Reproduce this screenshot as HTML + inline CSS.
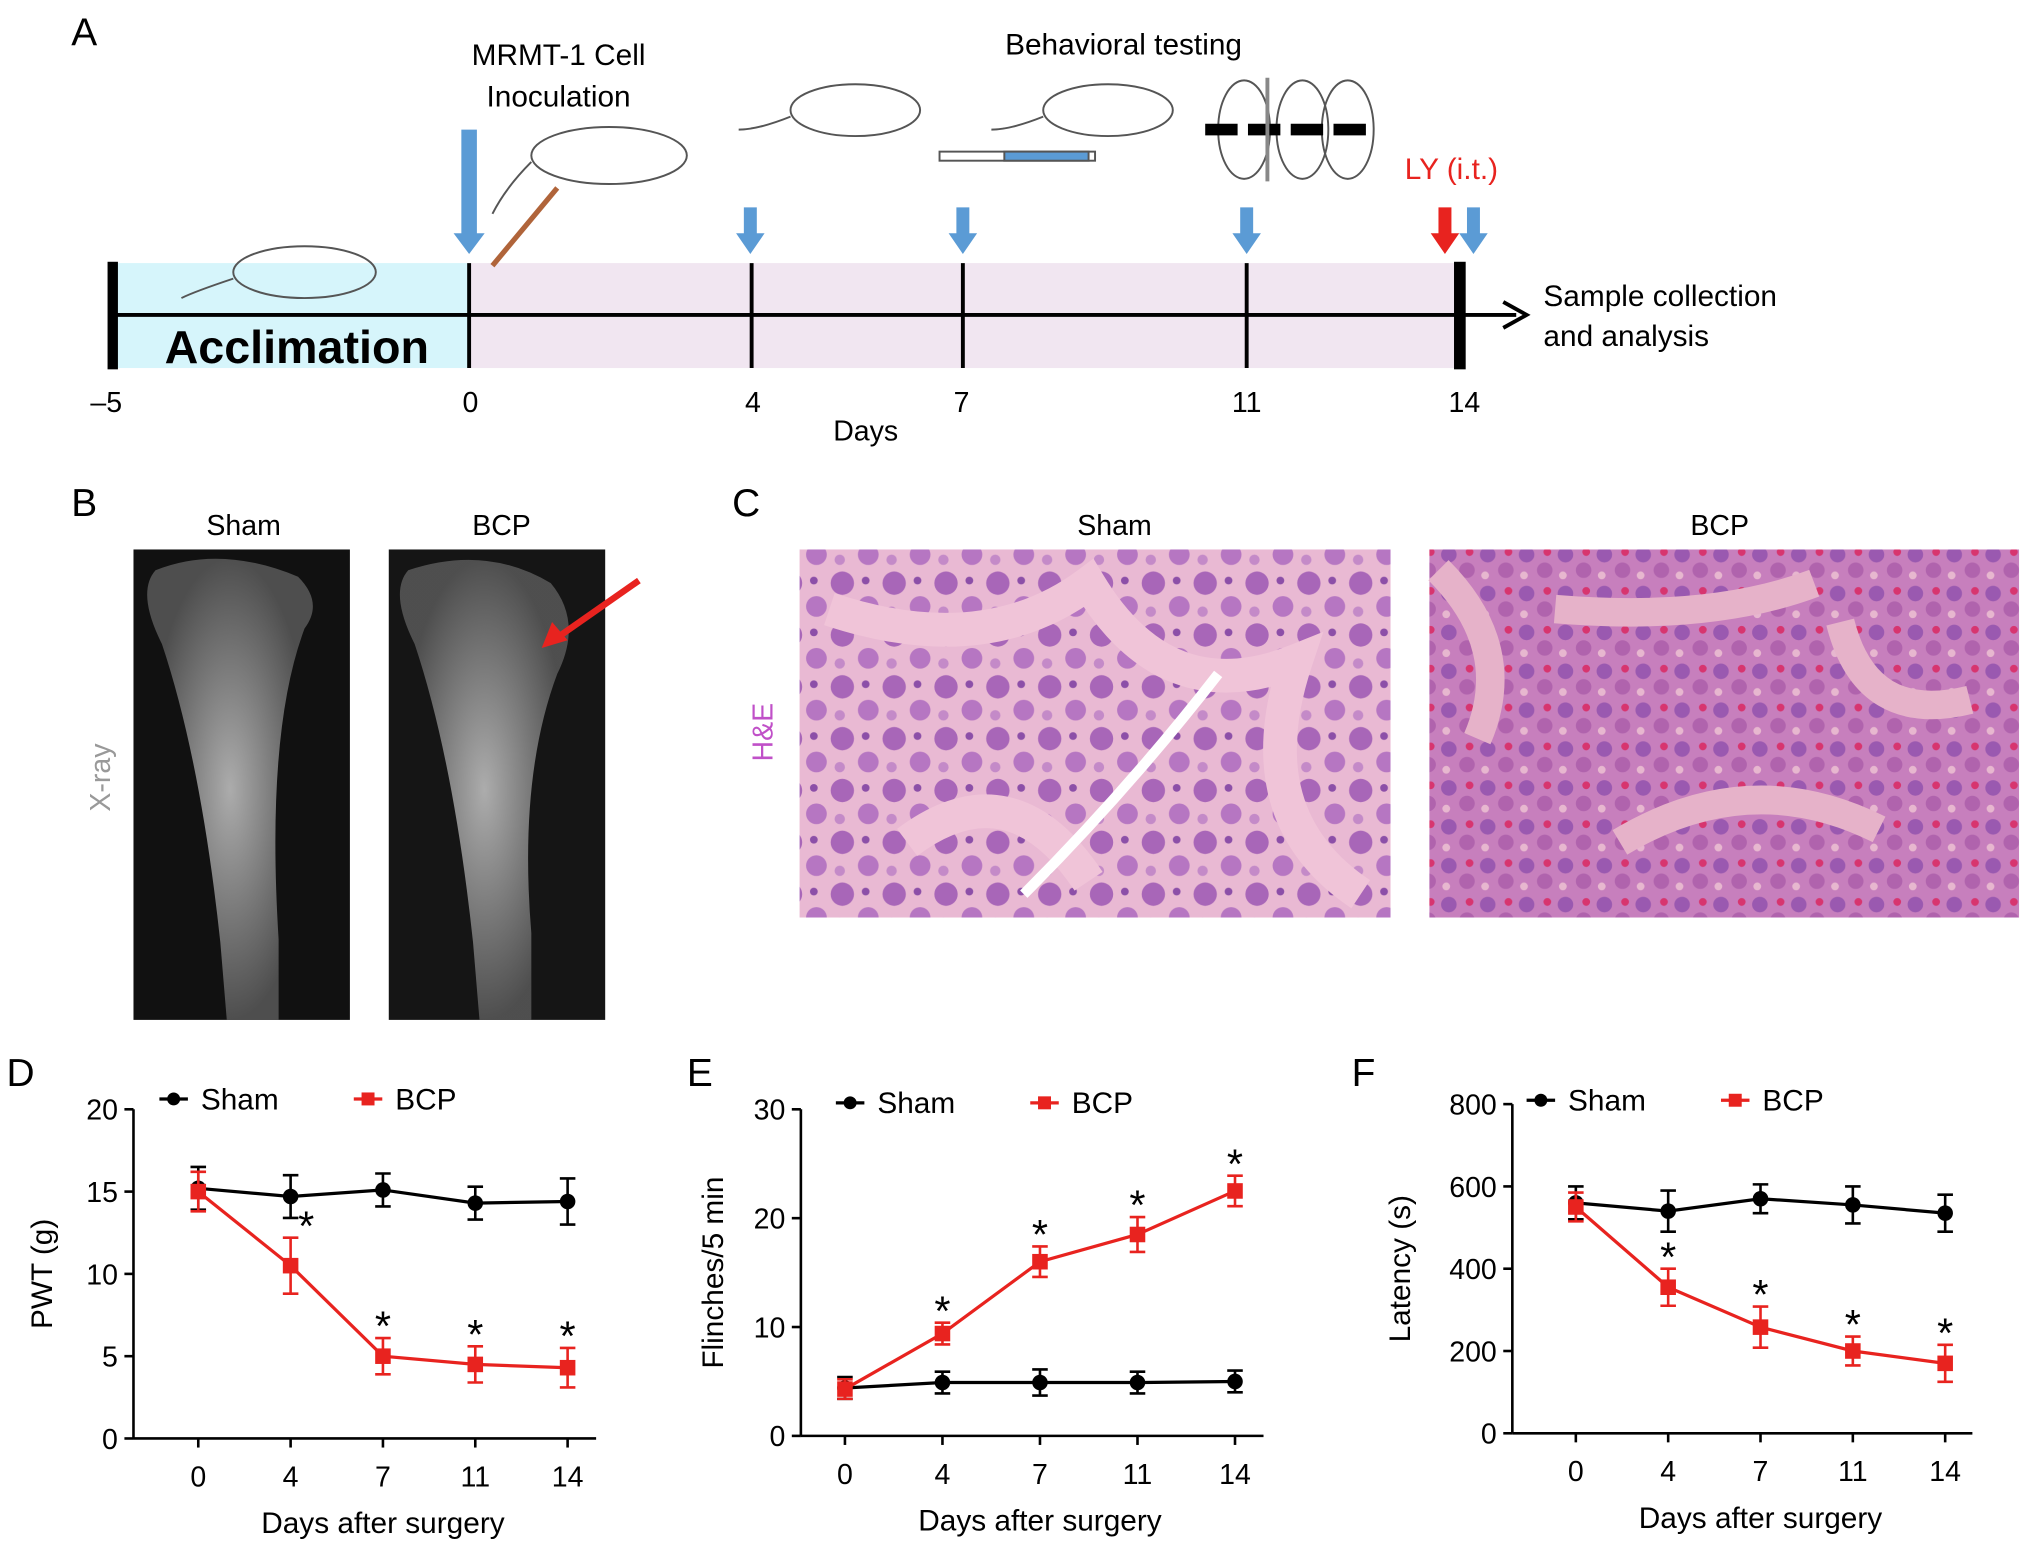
<!DOCTYPE html>
<html><head><meta charset="utf-8"><style>
html,body{margin:0;padding:0;background:#fff}
svg{display:block}
text{font-family:"Liberation Sans",sans-serif}
</style></head><body>
<svg id="fig" width="2032" height="1552" viewBox="0 0 1568 1197.6" xmlns="http://www.w3.org/2000/svg">
<defs>
<radialGradient id="bone" cx="50%" cy="50%" r="50%"><stop offset="0" stop-color="#bdbdbd"/><stop offset="1" stop-color="#555"/></radialGradient>
<pattern id="cellsA" width="40" height="40" patternUnits="userSpaceOnUse">
<rect width="40" height="40" fill="#e9b9d3"/>
<circle cx="10" cy="10" r="9" fill="#a866b8"/><circle cx="30" cy="28" r="8" fill="#b676c2"/><circle cx="28" cy="8" r="3" fill="#8c4fa8"/><circle cx="8" cy="32" r="4" fill="#c48ac8"/>
</pattern>
<pattern id="cellsB" width="30" height="30" patternUnits="userSpaceOnUse">
<rect width="30" height="30" fill="#c77fbd"/>
<circle cx="8" cy="8" r="6" fill="#9a59b0"/><circle cx="22" cy="20" r="6" fill="#b063ad"/><circle cx="24" cy="6" r="3" fill="#d7356f"/><circle cx="6" cy="24" r="3" fill="#e7b7cf"/>
</pattern>
</defs>

<!-- Panel A -->
<g>
<text x="55" y="35" font-size="30">A</text>
<rect x="87" y="203" width="275" height="81" fill="#d6f5fb"/>
<rect x="362" y="203" width="765" height="81" fill="#f1e6f1"/>
<text x="229" y="280" font-size="36" font-weight="bold" text-anchor="middle">Acclimation</text>
<line x1="87" y1="243" x2="1170" y2="243" stroke="#000" stroke-width="3"/>
<path d="M1160 233 L1178 243 L1160 253" fill="none" stroke="#000" stroke-width="3"/>
<rect x="83" y="202" width="8" height="83" fill="#000"/>
<rect x="1122" y="202" width="9" height="83" fill="#000"/>
<g stroke="#000" stroke-width="3"><line x1="362" y1="203" x2="362" y2="284"/><line x1="580" y1="203" x2="580" y2="284"/><line x1="743" y1="203" x2="743" y2="284"/><line x1="962" y1="203" x2="962" y2="284"/></g>
<g font-size="22" text-anchor="middle">
<text x="82" y="318">–5</text><text x="363" y="318">0</text><text x="581" y="318">4</text><text x="742" y="318">7</text><text x="962" y="318">11</text><text x="1130" y="318">14</text></g>
<text x="668" y="340" font-size="22" text-anchor="middle">Days</text>
<text x="1191" y="236" font-size="23">Sample collection</text>
<text x="1191" y="267" font-size="23">and analysis</text>
<text x="431" y="50" font-size="23" text-anchor="middle">MRMT-1 Cell</text>
<text x="431" y="82" font-size="23" text-anchor="middle">Inoculation</text>
<text x="867" y="42" font-size="23" text-anchor="middle">Behavioral testing</text>
<text x="1120" y="138" font-size="23" fill="#e8231f" text-anchor="middle">LY (i.t.)</text>
<g fill="#5b9bd5">
<path d="M356 100 h12 v80 h6 l-12 16 l-12 -16 h6z"/>
<path d="M574 160 h10 v20 h6 l-11 16 l-11 -16 h6z"/>
<path d="M738 160 h10 v20 h6 l-11 16 l-11 -16 h6z"/>
<path d="M957 160 h10 v20 h6 l-11 16 l-11 -16 h6z"/>
<path d="M1132 160 h10 v20 h6 l-11 16 l-11 -16 h6z"/>
</g>
<path d="M1110 160 h10 v20 h6 l-11 16 l-11 -16 h6z" fill="#e8231f"/>
<g fill="none" stroke="#555" stroke-width="1.5">
<ellipse cx="235" cy="210" rx="55" ry="20"/><path d="M180 215 q-30 10 -40 15"/>
<ellipse cx="470" cy="120" rx="60" ry="22"/><path d="M410 125 q-20 20 -30 40"/>
<path d="M380 205 l50 -60" stroke="#b0643a" stroke-width="4"/>
<ellipse cx="660" cy="85" rx="50" ry="20"/><path d="M610 90 q-25 10 -40 10"/>
<ellipse cx="855" cy="85" rx="50" ry="20"/><path d="M805 90 q-25 10 -40 10"/>
<rect x="725" y="117" width="120" height="7"/><rect x="775" y="117" width="65" height="7" fill="#5b9bd5"/>
<ellipse cx="960" cy="100" rx="20" ry="38"/><ellipse cx="1005" cy="100" rx="20" ry="38"/><ellipse cx="1040" cy="100" rx="20" ry="38"/>
<line x1="930" y1="100" x2="1060" y2="100" stroke="#000" stroke-width="9" stroke-dasharray="25 8"/>
<line x1="978" y1="60" x2="978" y2="140" stroke="#888" stroke-width="3"/>
</g>
</g>

<!-- Panel B -->
<g>
<text x="55" y="398" font-size="30">B</text>
<text x="188" y="413" font-size="22" text-anchor="middle">Sham</text>
<text x="387" y="413" font-size="22" text-anchor="middle">BCP</text>
<text x="85" y="600" font-size="22" fill="#999" text-anchor="middle" transform="rotate(-90 85 600)">X-ray</text>
<rect x="103" y="424" width="167" height="363" fill="#111"/>
<path d="M120 440 q50 -20 110 5 q20 20 5 40 q-30 80 -20 240 l0 62 h-40 l-5 -60 q-15 -140 -45 -230 q-20 -40 -5 -57z" fill="url(#bone)" opacity="0.9"/>
<rect x="300" y="424" width="167" height="363" fill="#151515"/>
<path d="M315 440 q60 -20 110 10 q25 30 5 70 q-30 80 -20 200 l0 67 h-40 l-5 -60 q-15 -140 -45 -230 q-20 -40 -5 -57z" fill="url(#bone)" opacity="0.9"/>
<path d="M493 448 L430 492" stroke="#e8231f" stroke-width="5"/><path d="M418 500 l8 -20 l12 14z" fill="#e8231f"/>
</g>

<!-- Panel C -->
<g>
<text x="565" y="398" font-size="30">C</text>
<text x="860" y="413" font-size="22" text-anchor="middle">Sham</text>
<text x="1327" y="413" font-size="22" text-anchor="middle">BCP</text>
<text x="596" y="565" font-size="22" fill="#c050c8" text-anchor="middle" transform="rotate(-90 596 565)">H&amp;E</text>
<rect x="617" y="424" width="456" height="284" fill="url(#cellsA)"/>
<path d="M640 470 q120 40 200 -20 q60 100 160 60 q-40 120 50 180 M700 650 q80 -60 140 30" stroke="#f0c4d8" stroke-width="26" fill="none"/>
<path d="M790 690 q80 -80 150 -170" stroke="#fff" stroke-width="8" fill="none"/>
<rect x="1103" y="424" width="455" height="284" fill="url(#cellsB)"/>
<path d="M1110 440 q60 60 30 130 M1200 470 q120 10 200 -20 M1250 650 q100 -60 200 -10 M1420 480 q20 80 100 60" stroke="#e6b2c9" stroke-width="22" fill="none"/>
</g>

<script>
// ---------- chart data ----------
const days = [0, 4, 7, 11, 14];
const dShamVals = [15.2, 14.7, 15.1, 14.3, 14.4];
const dShamErr = [1.3, 1.3, 1.0, 1.0, 1.4];
const dBcpVals = [15.0, 10.5, 5.0, 4.5, 4.3];
const dBcpErr = [1.2, 1.7, 1.1, 1.1, 1.2];
const dTicks = [0, 5, 10, 15, 20];
const eShamVals = [4.4, 4.9, 4.9, 4.9, 5.0];
const eShamErr = [1.0, 1.0, 1.2, 1.0, 1.0];
const eBcpVals = [4.3, 9.4, 16.0, 18.5, 22.5];
const eBcpErr = [0.9, 1.0, 1.4, 1.6, 1.4];
const eTicks = [0, 10, 20, 30];
const fShamVals = [560, 540, 570, 555, 535];
const fShamErr = [40, 50, 35, 45, 45];
const fBcpVals = [550, 355, 258, 200, 170];
const fBcpErr = [35, 45, 50, 35, 45];
const fTicks = [0, 200, 400, 600, 800];
const bcpSig = [false, true, true, true, true];

const NS = "http://www.w3.org/2000/svg";
const fig = document.getElementById('fig');
function mk(tag, attrs, parent, txt) {
  const e = document.createElementNS(NS, tag);
  for (const k in attrs) e.setAttribute(k, attrs[k]);
  if (txt !== undefined) e.textContent = txt;
  parent.appendChild(e);
  return e;
}
function chart(cfg) {
  const g = mk('g', {}, fig);
  
  
  const yMax = cfg.ticks[cfg.ticks.length - 1];
  const ys = v => cfg.y0 - (v / yMax) * (cfg.y0 - cfg.y1);
  const xpos = i => cfg.x0 + i * (cfg.x4 - cfg.x0) / (days.length - 1);
  const lab = mk('text', {x: cfg.lx, y: cfg.ly, 'font-size': 30}, g, cfg.letter);
  
  
  const ya = mk('line', {x1: cfg.ax, y1: cfg.y1, x2: cfg.ax, y2: cfg.y0, stroke: '#000', 'stroke-width': 2}, g);
  
  
  const xa = mk('line', {x1: cfg.ax, y1: cfg.y0, x2: cfg.xend, y2: cfg.y0, stroke: '#000', 'stroke-width': 2}, g);
  
  
  cfg.ticks.forEach(t => {
    mk('line', {x1: cfg.ax - 7, y1: ys(t), x2: cfg.ax, y2: ys(t), stroke: '#000', 'stroke-width': 2}, g);
    const tl = mk('text', {x: cfg.ax - 12, y: ys(t) + 8, 'font-size': 22, 'text-anchor': 'end'}, g, t);
    
    
  });
  days.forEach((d, i) => {
    const x = xpos(i);
    mk('line', {x1: x, y1: cfg.y0, x2: x, y2: cfg.y0 + 7, stroke: '#000', 'stroke-width': 2}, g);
    const tl = mk('text', {x: x, y: cfg.y0 + 37, 'font-size': 22, 'text-anchor': 'middle'}, g, d);
    
    
  });
  const xt = mk('text', {x: (cfg.x0 + cfg.x4) / 2, y: cfg.y0 + 73, 'font-size': 23, 'text-anchor': 'middle'}, g, 'Days after surgery');
  
  
  const yc = (cfg.y0 + cfg.y1) / 2;
  const yt = mk('text', {x: cfg.ytx, y: yc, 'font-size': 23, 'text-anchor': 'middle', transform: `rotate(-90 ${cfg.ytx} ${yc})`}, g, cfg.ytitle);
  
  
  [[cfg.sham, cfg.shamErr, '#000', 'circle', 'sham'], [cfg.bcp, cfg.bcpErr, '#e8231f', 'square', 'bcp']].forEach(([vals, err, col, shape, nm]) => {
    const pts = vals.map((v, i) => `${xpos(i)},${ys(v)}`).join(' ');
    const ln = mk('polyline', {points: pts, fill: 'none', stroke: col, 'stroke-width': 2.5}, g);
    
    
    vals.forEach((v, i) => {
      const x = xpos(i), y = ys(v), eh = ys(v - err[i]) - y;
      const eb = mk('path', {d: `M${x} ${y - eh}V${y + eh}M${x - 6} ${y - eh}h12M${x - 6} ${y + eh}h12`, stroke: col, 'stroke-width': 2, fill: 'none'}, g);
      
      
      const m = shape === 'circle' ? mk('circle', {cx: x, cy: y, r: 6, fill: col}, g) : mk('rect', {x: x - 6, y: y - 6, width: 12, height: 12, fill: col}, g);
      
      
      if (nm === 'bcp' && bcpSig[i]) {
        const st = mk('text', {x: x + (i === 1 && cfg.letter === 'D' ? 12 : 0), y: y - eh + 2, 'font-size': 32, 'text-anchor': 'middle'}, g, '*');
        
        
      }
    });
  });
  const lg = mk('g', {}, g);
  
  
  mk('line', {x1: cfg.legx, y1: cfg.legy, x2: cfg.legx + 22, y2: cfg.legy, stroke: '#000', 'stroke-width': 2.5}, lg);
  mk('circle', {cx: cfg.legx + 11, cy: cfg.legy, r: 5, fill: '#000'}, lg);
  mk('text', {x: cfg.legx + 32, y: cfg.legy + 8, 'font-size': 23}, lg, 'Sham');
  const bx = cfg.legx + 150;
  mk('line', {x1: bx, y1: cfg.legy, x2: bx + 22, y2: cfg.legy, stroke: '#e8231f', 'stroke-width': 2.5}, lg);
  mk('rect', {x: bx + 6, y: cfg.legy - 5, width: 10, height: 10, fill: '#e8231f'}, lg);
  mk('text', {x: bx + 32, y: cfg.legy + 8, 'font-size': 23}, lg, 'BCP');
}
chart({name: 'chart-d-pwt', letter: 'D', lx: 5, ly: 838, ax: 103, y0: 1110, y1: 856, xend: 460, x0: 153, x4: 438, ticks: dTicks,
  sham: dShamVals, shamErr: dShamErr, bcp: dBcpVals, bcpErr: dBcpErr, ytitle: 'PWT (g)', ytx: 40, legx: 123, legy: 848});
chart({name: 'chart-e-flinches', letter: 'E', lx: 530, ly: 838, ax: 618, y0: 1108, y1: 856, xend: 975, x0: 652, x4: 953, ticks: eTicks,
  sham: eShamVals, shamErr: eShamErr, bcp: eBcpVals, bcpErr: eBcpErr, ytitle: 'Flinches/5 min', ytx: 558, legx: 645, legy: 851});
chart({name: 'chart-f-latency', letter: 'F', lx: 1043, ly: 838, ax: 1167, y0: 1106, y1: 852, xend: 1522, x0: 1216, x4: 1501, ticks: fTicks,
  sham: fShamVals, shamErr: fShamErr, bcp: fBcpVals, bcpErr: fBcpErr, ytitle: 'Latency (s)', ytx: 1088, legx: 1178, legy: 849});
</script>
</svg>
</body></html>
